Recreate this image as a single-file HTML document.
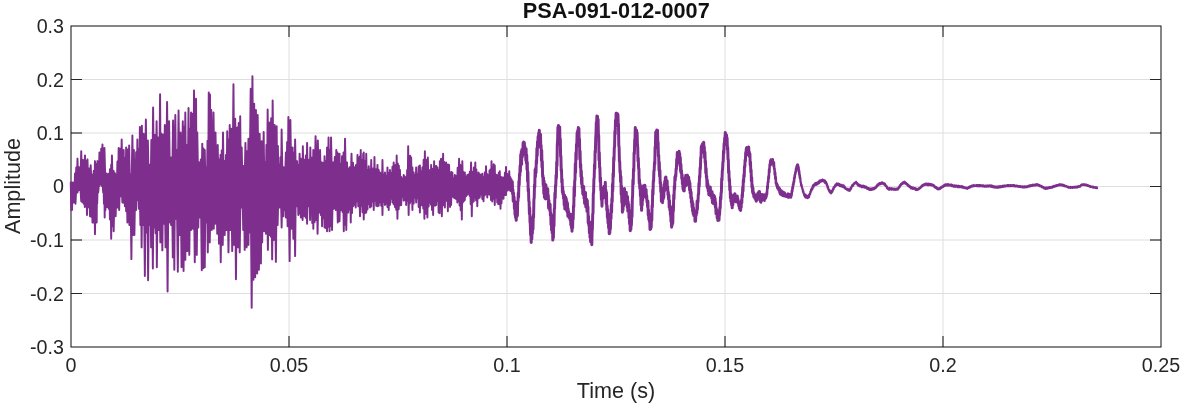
<!DOCTYPE html>
<html><head><meta charset="utf-8"><title>PSA-091-012-0007</title>
<style>html,body{margin:0;padding:0;background:#fff}svg{display:block}</style></head>
<body>
<svg width="1182" height="404" viewBox="0 0 1182 404">
<rect width="1182" height="404" fill="#fff"/>
<line x1="289" y1="26" x2="289" y2="347" stroke="#dedede" stroke-width="1"/>
<line x1="507" y1="26" x2="507" y2="347" stroke="#dedede" stroke-width="1"/>
<line x1="725" y1="26" x2="725" y2="347" stroke="#dedede" stroke-width="1"/>
<line x1="943" y1="26" x2="943" y2="347" stroke="#dedede" stroke-width="1"/>
<line x1="71" y1="79.5" x2="1161" y2="79.5" stroke="#dedede" stroke-width="1"/>
<line x1="71" y1="133" x2="1161" y2="133" stroke="#dedede" stroke-width="1"/>
<line x1="71" y1="186.5" x2="1161" y2="186.5" stroke="#dedede" stroke-width="1"/>
<line x1="71" y1="240" x2="1161" y2="240" stroke="#dedede" stroke-width="1"/>
<line x1="71" y1="293.5" x2="1161" y2="293.5" stroke="#dedede" stroke-width="1"/>
<rect x="71" y="26" width="1090" height="321" fill="none" stroke="#0c0c0c" stroke-width="1"/>
<line x1="289" y1="26" x2="289" y2="37" stroke="#0c0c0c" stroke-width="1"/>
<line x1="289" y1="347" x2="289" y2="336" stroke="#0c0c0c" stroke-width="1"/>
<line x1="507" y1="26" x2="507" y2="37" stroke="#0c0c0c" stroke-width="1"/>
<line x1="507" y1="347" x2="507" y2="336" stroke="#0c0c0c" stroke-width="1"/>
<line x1="725" y1="26" x2="725" y2="37" stroke="#0c0c0c" stroke-width="1"/>
<line x1="725" y1="347" x2="725" y2="336" stroke="#0c0c0c" stroke-width="1"/>
<line x1="943" y1="26" x2="943" y2="37" stroke="#0c0c0c" stroke-width="1"/>
<line x1="943" y1="347" x2="943" y2="336" stroke="#0c0c0c" stroke-width="1"/>
<line x1="71" y1="79.5" x2="82" y2="79.5" stroke="#262626" stroke-width="1"/>
<line x1="1161" y1="79.5" x2="1150" y2="79.5" stroke="#262626" stroke-width="1"/>
<line x1="71" y1="133" x2="82" y2="133" stroke="#0c0c0c" stroke-width="1"/>
<line x1="1161" y1="133" x2="1150" y2="133" stroke="#0c0c0c" stroke-width="1"/>
<line x1="71" y1="186.5" x2="82" y2="186.5" stroke="#262626" stroke-width="1"/>
<line x1="1161" y1="186.5" x2="1150" y2="186.5" stroke="#262626" stroke-width="1"/>
<line x1="71" y1="240" x2="82" y2="240" stroke="#0c0c0c" stroke-width="1"/>
<line x1="1161" y1="240" x2="1150" y2="240" stroke="#0c0c0c" stroke-width="1"/>
<line x1="71" y1="293.5" x2="82" y2="293.5" stroke="#262626" stroke-width="1"/>
<line x1="1161" y1="293.5" x2="1150" y2="293.5" stroke="#262626" stroke-width="1"/>
<g fill="none" stroke="#7E2F8E" stroke-linejoin="round" stroke-linecap="round">
<path d="M74.49 190.50 L74.99 173.58 L75.62 190.50 L76.24 167.55 L76.86 190.50 L77.49 158.60 L78.36 190.50 L79.23 167.34 L80.23 190.50 L81.23 151.12 L82.10 190.50 L82.98 159.85 L83.98 190.50 L84.97 155.36 L85.72 190.50 L86.47 161.10 L86.97 190.50 L87.47 159.35 L88.34 190.50 L89.22 168.59 L89.97 190.50 L90.71 165.34 L91.59 190.50 L92.46 174.83 L93.08 190.50 L93.71 170.99 L94.33 190.50 L94.96 161.10 L95.58 190.50 L96.20 163.92 L96.83 190.50 L97.45 161.10 L98.45 190.50 L99.45 152.36 L100.32 181.05 L101.20 148.62 L101.82 185.86 L102.44 144.38 L103.44 190.50 L104.44 147.87 L105.56 190.50 L106.69 173.58 L107.23 190.50 L107.77 174.76 L108.31 190.50 L108.85 173.71 L109.39 190.50 L109.93 169.33 L110.55 190.50 L111.18 164.84 L111.55 190.50 L111.93 155.36 L112.80 190.50 L113.67 171.08 L114.30 190.50 L114.92 173.22 L115.55 190.50 L116.17 174.83 L116.79 190.50 L117.42 161.45 L118.04 190.50 L118.66 147.87 L119.41 190.50 L120.16 148.62 L120.91 190.50 L121.66 139.39 L122.66 190.50 L123.66 149.87 L124.28 190.50 L124.90 158.14 L125.53 190.50 L126.15 147.37 L126.90 190.50 L127.65 149.50 L128.40 190.50 L129.15 145.38 L129.90 190.50 L130.64 174.83 L131.52 190.50 L132.39 135.39 L133.14 190.50 L133.89 149.87 L134.39 190.50 L134.89 159.85 L135.51 190.50 L136.13 152.21 L136.76 190.50 L137.38 139.39 L138.01 190.50 L138.63 149.08 L139.25 190.50 L139.88 126.91 L140.88 190.50 L141.87 125.66 L142.75 190.50 L143.62 133.65 L144.74 190.50 L145.87 119.42 L146.87 190.50 L147.86 140.39 L148.86 190.50 L149.86 164.84 L150.61 190.50 L151.36 139.89 L152.23 190.50 L153.10 107.44 L153.98 190.50 L154.85 134.90 L155.72 190.50 L156.60 121.17 L157.35 190.50 L158.10 137.39 L159.09 190.50 L160.09 94.22 L160.72 190.50 L161.34 133.65 L162.09 190.50 L162.84 134.40 L163.84 190.50 L164.83 124.91 L165.96 190.50 L167.08 101.95 L168.08 190.50 L169.08 121.17 L170.07 190.50 L171.07 157.36 L172.07 190.50 L173.07 120.42 L174.19 190.50 L175.32 114.93 L176.06 190.50 L176.81 149.87 L177.69 190.50 L178.56 110.44 L179.56 190.50 L180.56 132.40 L181.68 190.50 L182.80 121.17 L183.43 190.50 L184.05 126.63 L184.67 190.50 L185.30 112.43 L186.05 190.50 L186.80 144.88 L187.67 190.50 L188.54 107.94 L189.17 190.50 L189.79 129.34 L190.41 190.50 L191.04 112.43 L191.79 190.50 L192.54 113.61 L193.28 190.50 L194.03 90.47 L195.03 190.50 L196.03 98.71 L196.65 190.50 L197.28 132.40 L198.28 190.50 L199.27 162.35 L200.02 190.50 L200.77 159.41 L201.52 190.50 L202.27 143.63 L202.89 190.50 L203.52 148.55 L204.14 190.50 L204.76 149.87 L205.51 190.50 L206.26 167.34 L206.89 190.50 L207.51 140.68 L208.13 190.50 L208.76 92.47 L209.38 190.50 L210.00 94.47 L210.63 190.50 L211.25 109.94 L212.38 190.50 L213.50 112.43 L214.50 190.50 L215.50 132.40 L216.62 190.50 L217.74 144.88 L218.43 190.50 L219.11 159.41 L219.80 190.50 L220.49 154.86 L221.11 190.50 L221.73 150.36 L222.36 190.50 L222.98 132.40 L223.86 190.50 L224.73 161.10 L225.35 190.50 L225.98 155.10 L226.60 190.50 L227.22 131.15 L227.85 190.50 L228.47 139.81 L229.10 190.50 L229.72 124.91 L230.59 190.50 L231.47 128.66 L232.47 190.50 L233.46 84.23 L234.34 190.50 L235.21 118.67 L236.21 190.50 L237.21 127.41 L237.96 190.50 L238.70 123.04 L239.45 190.50 L240.20 116.18 L240.95 190.50 L241.70 147.37 L242.57 190.50 L243.45 166.09 L244.44 190.50 L245.44 142.88 L246.19 190.50 L246.94 151.16 L247.69 190.50 L248.44 138.64 L249.56 190.50 L250.68 88.73 L251.56 190.50 L252.43 76.25 L253.30 190.50 L254.18 103.70 L255.05 190.50 L255.92 109.94 L256.80 190.50 L257.67 114.93 L258.67 190.50 L259.67 133.65 L260.67 190.50 L261.66 141.13 L262.66 190.50 L263.66 131.90 L264.41 190.50 L265.16 162.35 L265.78 190.50 L266.41 144.87 L267.03 190.50 L267.65 109.44 L268.65 190.50 L269.65 122.42 L270.40 190.50 L271.15 118.22 L271.90 190.50 L272.65 100.46 L273.64 190.50 L274.64 124.91 L275.64 190.50 L276.64 126.16 L277.26 190.50 L277.89 145.88 L278.51 190.50 L279.13 164.84 L279.76 190.50 L280.38 157.35 L281.01 190.50 L281.63 129.40 L282.63 190.50 L283.63 167.34 L284.75 190.50 L285.87 152.36 L286.50 190.50 L287.12 142.00 L287.74 190.50 L288.37 116.93 L289.37 190.50 L290.36 119.92 L291.49 190.50 L292.61 147.37 L293.23 190.50 L293.86 152.68 L294.48 190.50 L295.11 139.39 L296.10 190.50 L297.10 161.10 L297.73 190.50 L298.35 165.04 L298.97 190.50 L299.60 153.61 L300.14 190.50 L300.68 158.70 L301.22 190.50 L301.76 159.09 L302.30 190.50 L302.84 146.13 L303.72 190.50 L304.59 159.85 L305.21 190.50 L305.84 155.53 L306.46 190.50 L307.09 142.88 L307.96 190.50 L308.83 159.85 L309.58 190.50 L310.33 147.37 L311.08 190.50 L311.83 157.72 L312.58 190.50 L313.32 149.87 L314.45 190.50 L315.57 136.14 L316.69 190.50 L317.82 140.39 L318.94 190.50 L320.06 149.87 L321.06 190.50 L322.06 162.35 L322.68 190.50 L323.31 162.87 L323.93 190.50 L324.55 156.11 L325.18 190.50 L325.80 161.50 L326.43 190.50 L327.05 147.37 L327.80 190.50 L328.55 137.39 L329.17 190.50 L329.80 150.34 L330.42 190.50 L331.04 137.39 L332.17 190.50 L333.29 162.35 L334.04 190.50 L334.79 157.00 L335.54 190.50 L336.28 149.87 L336.82 190.50 L337.37 152.56 L337.91 190.50 L338.45 154.59 L338.99 190.50 L339.53 153.61 L340.15 190.50 L340.78 164.02 L341.40 190.50 L342.02 156.11 L342.77 190.50 L343.52 152.49 L344.27 190.50 L345.02 138.64 L346.02 190.50 L347.02 162.35 L347.64 190.50 L348.26 168.91 L348.89 190.50 L349.51 167.34 L350.51 190.50 L351.51 153.61 L352.26 190.50 L353.00 162.83 L353.75 190.50 L354.50 167.34 L355.25 190.50 L356.00 164.96 L356.75 190.50 L357.50 154.86 L358.04 190.50 L358.58 158.59 L359.12 190.50 L359.66 156.69 L360.20 190.50 L360.74 149.87 L361.37 190.50 L361.99 160.28 L362.61 190.50 L363.24 153.61 L363.49 190.50 L363.74 152.41 L364.37 190.50 L364.99 161.24 L365.62 190.50 L366.24 153.66 L366.86 190.50 L367.49 170.00 L368.11 190.50 L368.73 166.13 L369.36 190.50 L369.98 169.74 L370.61 190.50 L371.23 159.90 L371.77 190.50 L372.31 169.67 L372.85 190.50 L373.39 168.19 L373.93 190.50 L374.47 156.90 L374.97 190.50 L375.47 170.77 L375.97 190.50 L376.47 169.07 L376.97 190.50 L377.47 164.89 L378.09 190.50 L378.72 169.85 L379.34 190.50 L379.97 172.37 L380.59 190.50 L381.21 173.50 L381.84 190.50 L382.46 159.90 L383.08 190.50 L383.71 174.39 L384.33 190.50 L384.96 172.37 L385.58 190.50 L386.20 176.19 L386.83 190.50 L387.45 167.38 L388.08 190.50 L388.70 172.90 L389.32 190.50 L389.95 169.88 L390.57 190.50 L391.20 173.11 L391.82 190.50 L392.44 166.80 L393.07 190.50 L393.69 162.39 L394.19 190.50 L394.69 169.30 L395.19 190.50 L395.69 164.66 L396.19 190.50 L396.69 155.40 L397.23 190.50 L397.77 163.37 L398.31 190.50 L398.85 165.62 L399.39 190.50 L399.93 169.88 L400.55 190.50 L401.18 176.91 L401.80 190.50 L402.43 178.73 L403.05 190.50 L403.67 174.87 L404.30 190.50 L404.92 176.50 L405.55 190.50 L406.17 177.36 L406.67 190.50 L407.17 170.08 L407.67 190.50 L408.17 146.17 L408.66 190.50 L409.16 156.22 L409.66 190.50 L410.16 155.74 L410.66 190.50 L411.16 157.40 L411.78 190.50 L412.41 167.55 L413.03 190.50 L413.66 172.37 L414.28 190.50 L414.90 175.24 L415.53 190.50 L416.15 167.38 L416.78 190.50 L417.40 173.97 L418.02 190.50 L418.65 166.43 L419.27 190.50 L419.90 165.39 L420.52 190.50 L421.14 171.58 L421.77 190.50 L422.39 167.38 L423.01 190.50 L423.64 159.79 L424.26 190.50 L424.89 151.16 L425.39 190.50 L425.88 163.28 L426.38 190.50 L426.88 159.65 L427.38 190.50 L427.88 157.40 L428.42 190.50 L428.96 169.74 L429.50 190.50 L430.04 172.32 L430.58 190.50 L431.13 164.89 L431.62 190.50 L432.12 168.49 L432.62 190.50 L433.12 172.50 L433.62 190.50 L434.12 161.14 L434.66 190.50 L435.20 166.25 L435.74 190.50 L436.28 165.99 L436.82 190.50 L437.36 167.38 L437.99 190.50 L438.61 169.86 L439.24 190.50 L439.86 161.14 L440.40 190.50 L440.94 159.01 L441.48 190.50 L442.02 158.67 L442.56 190.50 L443.10 153.66 L443.60 190.50 L444.10 161.70 L444.60 190.50 L445.10 166.41 L445.60 190.50 L446.10 162.39 L446.60 190.50 L447.10 164.75 L447.60 190.50 L448.10 164.45 L448.59 190.50 L449.09 164.89 L449.63 190.50 L450.18 174.35 L450.72 190.50 L451.26 172.07 L451.80 190.50 L452.34 172.37 L452.96 190.50 L453.59 178.81 L454.21 190.50 L454.83 174.87 L455.54 190.50 L456.25 175.88 L456.96 190.50 L457.66 167.62 L458.37 190.50 L459.08 158.65 L459.62 190.50 L460.16 164.70 L460.70 190.50 L461.24 166.03 L461.78 190.50 L462.32 161.14 L462.94 190.50 L463.57 172.10 L464.19 190.50 L464.82 172.37 L465.44 190.50 L466.06 176.84 L466.69 190.50 L467.31 174.87 L467.94 190.50 L468.56 174.42 L469.18 190.50 L469.81 171.75 L470.43 190.50 L471.06 162.39 L471.76 190.50 L472.47 171.92 L473.18 190.50 L473.88 167.52 L474.59 190.50 L475.30 162.39 L475.84 190.50 L476.38 169.48 L476.92 190.50 L477.46 174.33 L478.00 190.50 L478.54 172.37 L479.17 190.50 L479.79 174.16 L480.41 190.50 L481.04 174.89 L481.66 190.50 L482.29 173.62 L482.91 190.50 L483.53 177.44 L484.16 190.50 L484.78 172.54 L485.41 190.50 L486.03 166.13 L486.65 190.50 L487.28 174.19 L487.90 190.50 L488.53 174.87 L489.02 190.50 L489.52 170.37 L490.02 190.50 L490.52 169.34 L491.02 190.50 L491.52 161.14 L492.06 190.50 L492.60 168.39 L493.14 190.50 L493.68 164.16 L494.22 190.50 L494.76 165.39 L495.26 190.50 L495.76 174.36 L496.26 190.50 L496.76 174.87 L497.26 190.50 L497.76 177.04 L498.26 190.50 L498.76 172.73 L499.26 190.50 L499.76 171.13 L500.25 190.50 L500.75 176.71 L501.25 190.50 L501.75 177.48 L502.25 190.50 L502.75 177.36 L503.29 190.50 L503.83 177.47 L504.37 190.50 L504.91 172.76 L505.45 190.50 L505.99 166.88 L506.54 190.50 L507.08 173.70 L507.62 190.50 L508.16 174.92 L508.70 188.26 L509.24 171.13 L509.74 185.48 M70.75 182.50 L71.25 209.96 L71.62 182.50 L72.00 209.96 L72.87 182.50 L73.74 202.47 L74.62 182.50 L75.49 203.72 L76.49 182.50 L77.49 192.49 L78.24 182.50 L78.98 189.99 L80.11 182.50 L81.23 201.22 L81.85 182.50 L82.48 202.36 L83.10 182.50 L83.73 203.72 L84.27 182.50 L84.81 207.08 L85.35 182.50 L85.89 206.19 L86.43 182.50 L86.97 214.95 L87.72 182.50 L88.47 207.17 L89.22 182.50 L89.97 216.20 L90.59 182.50 L91.21 216.84 L91.84 182.50 L92.46 222.43 L93.08 182.50 L93.71 222.58 L94.33 182.50 L94.96 234.16 L95.83 182.50 L96.70 222.43 L96.95 182.50 L97.20 203.72 L97.70 182.50 L98.20 192.49 L98.80 182.50 L99.40 186.08 L100.00 182.50 L100.60 179.50 L101.25 182.50 L101.89 186.04 L102.54 182.50 L103.19 192.49 L103.57 182.50 L103.94 203.72 L104.31 182.50 L104.69 217.44 L105.06 182.50 L105.44 209.96 L105.98 182.50 L106.52 207.02 L107.06 182.50 L107.60 207.00 L108.14 182.50 L108.68 208.71 L109.31 182.50 L109.93 219.56 L110.55 182.50 L111.18 238.66 L111.80 182.50 L112.43 226.26 L113.05 182.50 L113.67 231.17 L114.67 182.50 L115.67 216.20 L116.54 182.50 L117.42 207.46 L118.29 182.50 L119.16 209.96 L119.91 182.50 L120.66 196.23 L121.53 182.50 L122.41 202.47 L123.03 182.50 L123.66 202.73 L124.28 182.50 L124.90 206.21 L125.53 182.50 L126.15 211.18 L126.78 182.50 L127.40 222.43 L128.40 182.50 L129.40 224.93 L130.39 182.50 L131.39 259.12 L132.14 182.50 L132.89 234.91 L133.64 182.50 L134.39 234.91 L135.26 182.50 L136.13 209.96 L136.76 182.50 L137.38 199.97 L138.13 182.50 L138.88 208.71 L139.63 182.50 L140.38 224.93 L141.00 182.50 L141.62 247.39 L142.25 182.50 L142.87 224.93 L143.87 182.50 L144.87 276.09 L145.62 182.50 L146.37 232.42 L147.24 182.50 L148.11 280.33 L148.99 182.50 L149.86 224.93 L150.48 182.50 L151.11 247.39 L151.98 182.50 L152.86 268.60 L153.60 182.50 L154.35 227.43 L154.98 182.50 L155.60 233.28 L156.22 182.50 L156.85 267.36 L157.72 182.50 L158.59 229.92 L159.47 182.50 L160.34 242.40 L161.34 182.50 L162.34 250.39 L163.09 182.50 L163.84 223.68 L164.71 182.50 L165.58 247.39 L166.58 182.50 L167.58 291.56 L168.45 182.50 L169.33 222.43 L170.20 182.50 L171.07 224.93 L171.95 182.50 L172.82 257.37 L173.57 182.50 L174.32 269.85 L174.94 182.50 L175.57 218.69 L176.69 182.50 L177.81 271.85 L178.81 182.50 L179.81 234.91 L180.68 182.50 L181.55 267.36 L182.55 182.50 L183.55 271.10 L184.42 182.50 L185.30 259.87 L186.30 182.50 L187.29 251.13 L188.29 182.50 L189.29 254.88 L190.16 182.50 L191.04 229.92 L191.91 182.50 L192.79 228.67 L193.78 182.50 L194.78 262.36 L195.78 182.50 L196.78 254.88 L197.53 182.50 L198.28 227.43 L199.02 182.50 L199.77 217.44 L200.77 182.50 L201.77 270.35 L202.52 182.50 L203.27 268.19 L204.02 182.50 L204.76 267.36 L205.51 182.50 L206.26 222.43 L207.01 182.50 L207.76 252.38 L208.76 182.50 L209.76 242.40 L210.75 182.50 L211.75 229.92 L212.75 182.50 L213.75 228.67 L214.50 182.50 L215.25 223.68 L216.24 182.50 L217.24 233.66 L218.12 182.50 L218.99 243.65 L219.86 182.50 L220.74 262.36 L221.73 182.50 L222.73 244.90 L223.73 182.50 L224.73 234.91 L225.60 182.50 L226.48 229.92 L227.47 182.50 L228.47 252.38 L229.47 182.50 L230.47 229.92 L231.34 182.50 L232.22 251.13 L233.21 182.50 L234.21 244.90 L235.09 182.50 L235.96 279.33 L236.83 182.50 L237.71 247.39 L238.70 182.50 L239.70 252.38 L240.70 182.50 L241.70 207.46 L242.45 182.50 L243.20 229.92 L243.95 182.50 L244.69 249.89 L245.69 182.50 L246.69 247.39 L247.56 182.50 L248.44 244.90 L249.06 182.50 L249.69 232.42 L250.68 182.50 L251.68 307.79 L252.56 182.50 L253.43 279.83 L254.30 182.50 L255.18 277.34 L256.17 182.50 L257.17 273.59 L258.05 182.50 L258.92 269.85 L259.92 182.50 L260.92 263.61 L261.54 182.50 L262.16 242.40 L263.16 182.50 L264.16 231.17 L265.03 182.50 L265.91 233.66 L266.91 182.50 L267.90 249.89 L268.78 182.50 L269.65 234.91 L270.27 182.50 L270.90 236.79 L271.52 182.50 L272.15 259.37 L273.02 182.50 L273.89 239.90 L274.89 182.50 L275.89 261.87 L276.76 182.50 L277.64 224.93 L278.63 182.50 L279.63 207.46 L280.63 182.50 L281.63 227.43 L282.50 182.50 L283.38 216.20 L284.00 182.50 L284.62 210.13 L285.25 182.50 L285.87 217.44 L286.75 182.50 L287.62 226.18 L288.62 182.50 L289.62 261.12 L290.49 182.50 L291.36 228.67 L292.36 182.50 L293.36 238.66 L294.23 182.50 L295.11 256.13 L295.85 182.50 L296.60 206.21 L297.48 182.50 L298.35 214.95 L298.97 182.50 L299.60 213.43 L300.22 182.50 L300.85 217.44 L301.72 182.50 L302.59 219.94 L303.59 182.50 L304.59 216.20 L305.21 182.50 L305.84 217.71 L306.46 182.50 L307.09 223.68 L307.71 182.50 L308.33 206.21 L309.21 182.50 L310.08 219.94 L310.62 182.50 L311.16 214.08 L311.70 182.50 L312.24 222.95 L312.78 182.50 L313.32 228.67 L313.95 182.50 L314.57 222.18 L315.20 182.50 L315.82 219.94 L316.69 182.50 L317.57 233.66 L318.57 182.50 L319.56 212.45 L320.19 182.50 L320.81 215.03 L321.43 182.50 L322.06 226.18 L322.68 182.50 L323.31 218.36 L323.93 182.50 L324.55 227.43 L325.18 182.50 L325.80 227.99 L326.43 182.50 L327.05 231.17 L327.67 182.50 L328.30 226.85 L328.92 182.50 L329.55 231.17 L330.17 182.50 L330.79 226.14 L331.42 182.50 L332.04 229.92 L332.91 182.50 L333.79 208.71 L334.79 182.50 L335.78 209.96 L336.78 182.50 L337.78 222.43 L338.65 182.50 L339.53 221.19 L340.40 182.50 L341.28 209.96 L341.90 182.50 L342.52 212.04 L343.15 182.50 L343.77 231.17 L344.39 182.50 L345.02 224.75 L345.64 182.50 L346.27 229.92 L347.26 182.50 L348.26 212.45 L348.89 182.50 L349.51 209.50 L350.13 182.50 L350.76 222.43 L351.38 182.50 L352.01 212.91 L352.63 182.50 L353.25 206.21 L353.88 182.50 L354.50 204.78 L355.13 182.50 L355.75 207.46 L356.37 182.50 L357.00 201.28 L357.62 182.50 L358.25 206.21 L359.12 182.50 L360.00 216.18 L360.62 182.50 L361.25 205.83 L361.87 182.50 L362.50 212.31 L363.12 182.50 L363.74 219.42 L364.37 182.50 L364.99 213.15 L365.62 182.50 L366.24 212.43 L366.86 182.50 L367.49 209.54 L368.11 182.50 L368.73 204.08 L369.36 182.50 L369.98 207.44 L370.61 182.50 L371.23 206.53 L371.85 182.50 L372.48 201.45 L373.10 182.50 L373.73 209.94 L374.35 182.50 L374.97 200.88 L375.60 182.50 L376.22 205.83 L376.85 182.50 L377.47 206.20 L378.09 182.50 L378.72 205.82 L379.34 182.50 L379.97 202.40 L380.59 182.50 L381.21 205.67 L381.84 182.50 L382.46 214.93 L383.08 182.50 L383.71 202.00 L384.33 182.50 L384.96 204.95 L385.58 182.50 L386.20 203.69 L386.83 182.50 L387.45 207.09 L388.08 182.50 L388.70 209.94 L389.32 182.50 L389.95 204.88 L390.57 182.50 L391.20 198.80 L391.82 182.50 L392.44 202.45 L393.07 182.50 L393.69 204.23 L394.31 182.50 L394.94 207.06 L395.56 182.50 L396.19 209.69 L396.81 182.50 L397.43 218.67 L398.06 182.50 L398.68 209.23 L399.31 182.50 L399.93 205.56 L400.55 182.50 L401.18 204.95 L401.80 182.50 L402.43 196.79 L403.05 182.50 L403.67 200.63 L404.30 182.50 L404.92 199.96 L405.55 182.50 L406.17 204.91 L406.79 182.50 L407.42 200.65 L408.04 182.50 L408.66 214.93 L409.29 182.50 L409.91 203.37 L410.54 182.50 L411.16 201.20 L411.78 182.50 L412.41 209.94 L413.03 182.50 L413.66 203.62 L414.28 182.50 L414.90 197.59 L415.53 182.50 L416.15 202.45 L416.78 182.50 L417.40 198.27 L418.02 182.50 L418.65 207.00 L419.27 182.50 L419.90 212.43 L420.46 182.50 L421.02 205.39 L421.58 182.50 L422.14 205.34 L422.70 182.50 L423.26 208.59 L423.83 182.50 L424.39 218.67 L424.89 182.50 L425.39 211.33 L425.88 182.50 L426.38 214.04 L426.88 182.50 L427.38 217.43 L428.01 182.50 L428.63 206.58 L429.25 182.50 L429.88 202.45 L430.42 182.50 L430.96 204.69 L431.50 182.50 L432.04 210.08 L432.58 182.50 L433.12 214.93 L433.62 182.50 L434.12 205.40 L434.62 182.50 L435.12 205.65 L435.62 182.50 L436.12 204.95 L436.74 182.50 L437.36 201.14 L437.99 182.50 L438.61 212.43 L439.15 182.50 L439.69 213.17 L440.23 182.50 L440.78 204.14 L441.32 182.50 L441.86 216.18 L442.36 182.50 L442.86 205.47 L443.35 182.50 L443.85 201.10 L444.35 182.50 L444.85 207.44 L445.35 182.50 L445.85 200.33 L446.35 182.50 L446.85 201.08 L447.35 182.50 L447.85 211.19 L448.39 182.50 L448.93 203.63 L449.47 182.50 L450.01 206.91 L450.55 182.50 L451.09 204.95 L451.71 182.50 L452.34 196.60 L452.96 182.50 L453.59 197.46 L454.21 182.50 L454.83 198.21 L455.46 182.50 L456.08 198.99 L456.71 182.50 L457.33 202.45 L457.89 182.50 L458.45 201.07 L459.01 182.50 L459.58 205.55 L460.14 182.50 L460.70 210.20 L461.26 182.50 L461.82 219.42 L462.32 182.50 L462.82 202.51 L463.32 182.50 L463.82 201.32 L464.32 182.50 L464.82 199.96 L465.44 182.50 L466.06 196.25 L466.69 182.50 L467.31 194.81 L467.94 182.50 L468.56 193.72 L469.10 182.50 L469.64 195.88 L470.18 182.50 L470.72 204.24 L471.26 182.50 L471.80 216.18 L472.30 182.50 L472.80 202.24 L473.30 182.50 L473.80 201.16 L474.30 182.50 L474.80 197.46 L475.42 182.50 L476.05 200.56 L476.67 182.50 L477.29 206.20 L477.92 182.50 L478.54 198.39 L479.17 182.50 L479.79 197.46 L480.41 182.50 L481.04 194.52 L481.66 182.50 L482.29 198.99 L482.91 182.50 L483.53 201.20 L484.16 182.50 L484.78 195.48 L485.41 182.50 L486.03 193.98 L486.65 182.50 L487.28 197.46 L487.90 182.50 L488.53 194.30 L489.15 182.50 L489.77 194.76 L490.40 182.50 L491.02 199.96 L491.64 182.50 L492.27 201.57 L492.89 182.50 L493.52 198.85 L494.14 182.50 L494.76 204.95 L495.39 182.50 L496.01 197.47 L496.64 182.50 L497.26 202.45 L497.80 182.50 L498.34 204.15 L498.88 182.50 L499.42 204.32 L499.96 182.50 L500.50 208.69 L501.00 182.50 L501.50 203.24 L502.00 182.50 L502.50 198.60 L503.00 182.50 L503.50 198.71 L504.12 182.50 L504.75 195.00 L505.37 182.50 L505.99 194.97 L506.62 182.50 L507.24 190.62 L507.87 182.50 L508.49 187.72 L509.11 182.50 L509.74 184.98 L510.24 182.50" stroke-width="1.95"/>
<path d="M509.00 189.21 L509.30 178.63 L509.60 187.81 L509.90 177.38 L510.20 189.10 L510.50 179.09 L510.80 190.80 L511.10 179.65 L511.40 187.70 L511.70 182.66 L512.00 188.06 L512.30 181.66 L512.60 193.94 L512.90 189.50 L513.20 201.08 L513.50 192.91 L513.80 201.95 L514.10 197.10 L514.40 208.66 L514.70 201.15 L515.00 214.67 L515.30 209.24 L515.60 217.74 L515.90 213.31 L516.20 220.32 L516.50 214.11 L516.80 216.75 L517.10 203.81 L517.40 215.69 L517.70 201.40 L518.00 200.94 L518.30 192.73 L518.60 197.32 L518.90 181.21 L519.20 184.95 L519.50 174.01 L519.80 175.78 L520.10 165.43 L520.40 171.61 L520.70 154.67 L521.00 162.88 L521.30 151.64 L521.60 164.58 L521.90 149.41 L522.20 157.33 L522.50 150.11 L522.80 155.24 L523.10 143.03 L523.40 153.67 L523.70 142.02 L524.00 153.38 L524.30 142.44 L524.60 148.37 L524.90 146.60 L525.20 151.70 L525.50 148.12 L525.80 160.21 L526.10 148.70 L526.40 163.33 L526.70 154.92 L527.00 169.69 L527.30 162.20 L527.60 181.49 L527.90 171.71 L528.20 191.30 L528.50 188.77 L528.80 200.70 L529.10 201.90 L529.40 213.99 L529.70 207.92 L530.00 222.01 L530.30 223.75 L530.60 234.85 L530.90 231.74 L531.20 242.47 L531.50 231.68 L531.80 239.22 L532.10 226.75 L532.40 233.54 L532.70 217.53 L533.00 229.33 L533.30 214.98 L533.60 217.54 L533.90 199.80 L534.20 197.69 L534.50 184.79 L534.80 187.03 L535.10 169.78 L535.40 177.04 L535.70 168.22 L536.00 172.99 L536.30 160.54 L536.60 163.46 L536.90 148.38 L537.20 155.71 L537.50 141.69 L537.80 147.83 L538.10 136.53 L538.40 142.05 L538.70 132.96 L539.00 144.86 L539.30 130.31 L539.60 138.52 L539.90 134.46 L540.20 141.72 L540.50 134.23 L540.80 147.87 L541.10 145.22 L541.40 160.55 L541.70 150.34 L542.00 167.30 L542.30 161.25 L542.60 176.75 L542.90 175.35 L543.20 185.03 L543.50 177.68 L543.80 193.58 L544.10 181.11 L544.40 197.31 L544.70 185.76 L545.00 198.50 L545.30 186.55 L545.60 198.97 L545.90 184.74 L546.20 196.33 L546.50 190.85 L546.80 195.49 L547.10 190.20 L547.40 197.59 L547.70 188.82 L548.00 199.11 L548.30 195.33 L548.60 208.29 L548.90 200.33 L549.20 206.75 L549.50 204.13 L549.80 210.67 L550.10 204.20 L550.40 215.35 L550.70 212.68 L551.00 224.73 L551.30 214.63 L551.60 230.15 L551.90 221.02 L552.20 233.12 L552.50 226.06 L552.80 240.10 L553.10 231.17 L553.40 237.78 L553.70 219.65 L554.00 226.26 L554.30 208.91 L554.60 208.77 L554.90 193.10 L555.20 198.27 L555.50 185.46 L555.80 185.57 L556.10 174.95 L556.40 178.71 L556.70 162.08 L557.00 166.22 L557.30 144.15 L557.60 140.75 L557.90 127.18 L558.20 139.70 L558.50 125.40 L558.80 136.54 L559.10 129.33 L559.40 137.27 L559.70 127.00 L560.00 145.28 L560.30 138.75 L560.60 156.72 L560.90 156.00 L561.20 170.61 L561.50 169.55 L561.80 182.51 L562.10 179.36 L562.40 192.33 L562.70 187.14 L563.00 194.66 L563.30 191.41 L563.60 198.62 L563.90 194.67 L564.20 205.11 L564.50 194.99 L564.80 209.00 L565.10 196.58 L565.40 207.05 L565.70 197.09 L566.00 209.46 L566.30 198.83 L566.60 210.62 L566.90 201.51 L567.20 211.91 L567.50 203.21 L567.80 216.21 L568.10 208.52 L568.40 215.50 L568.70 211.66 L569.00 217.59 L569.30 213.41 L569.60 217.75 L569.90 214.61 L570.20 220.32 L570.50 214.86 L570.80 224.96 L571.10 214.58 L571.40 227.71 L571.70 221.00 L572.00 231.30 L572.30 218.20 L572.60 228.08 L572.90 214.42 L573.20 219.28 L573.50 205.82 L573.80 207.02 L574.10 187.40 L574.40 196.10 L574.70 181.26 L575.00 179.53 L575.30 163.75 L575.60 172.48 L575.90 152.78 L576.20 159.63 L576.50 144.22 L576.80 146.41 L577.10 132.71 L577.40 136.71 L577.70 130.49 L578.00 135.66 L578.30 127.51 L578.60 136.76 L578.90 128.23 L579.20 142.35 L579.50 139.00 L579.80 159.02 L580.10 151.28 L580.40 167.76 L580.70 164.12 L581.00 176.61 L581.30 170.89 L581.60 183.97 L581.90 177.17 L582.20 188.09 L582.50 185.41 L582.80 193.97 L583.10 189.09 L583.40 194.91 L583.70 186.48 L584.00 198.15 L584.30 192.74 L584.60 203.43 L584.90 192.52 L585.20 204.28 L585.50 192.57 L585.80 206.90 L586.10 198.88 L586.40 204.25 L586.70 199.26 L587.00 211.58 L587.30 200.48 L587.60 211.73 L587.90 206.56 L588.20 222.99 L588.50 215.98 L588.80 225.56 L589.10 221.31 L589.40 232.87 L589.70 222.03 L590.00 237.36 L590.30 227.02 L590.60 241.80 L590.90 233.28 L591.20 242.07 L591.50 235.75 L591.80 244.79 L592.10 231.23 L592.40 228.34 L592.70 214.38 L593.00 212.94 L593.30 193.98 L593.60 192.23 L593.90 179.15 L594.20 177.47 L594.50 164.74 L594.80 168.84 L595.10 151.06 L595.40 152.52 L595.70 138.09 L596.00 133.57 L596.30 122.50 L596.60 124.51 L596.90 115.91 L597.20 129.04 L597.50 116.13 L597.80 125.09 L598.10 119.30 L598.40 134.21 L598.70 135.45 L599.00 160.15 L599.30 152.41 L599.60 167.52 L599.90 167.50 L600.20 181.72 L600.50 177.73 L600.80 190.17 L601.10 188.47 L601.40 199.76 L601.70 198.53 L602.00 206.13 L602.30 190.91 L602.60 198.53 L602.90 188.09 L603.20 198.14 L603.50 190.74 L603.80 193.15 L604.10 186.29 L604.40 192.48 L604.70 187.08 L605.00 193.07 L605.30 182.26 L605.60 195.09 L605.90 189.94 L606.20 203.80 L606.50 192.56 L606.80 210.17 L607.10 205.72 L607.40 217.82 L607.70 209.45 L608.00 223.03 L608.30 213.69 L608.60 228.08 L608.90 218.84 L609.20 233.72 L609.50 224.28 L609.80 233.41 L610.10 226.25 L610.40 229.01 L610.70 214.35 L611.00 219.14 L611.30 205.08 L611.60 212.35 L611.90 198.40 L612.20 201.69 L612.50 184.10 L612.80 190.94 L613.10 173.24 L613.40 176.69 L613.70 157.50 L614.00 160.95 L614.30 147.52 L614.60 146.72 L614.90 131.33 L615.20 134.25 L615.50 120.28 L615.80 125.84 L616.10 113.22 L616.40 120.99 L616.70 113.28 L617.00 124.55 L617.30 113.41 L617.60 122.92 L617.90 114.34 L618.20 122.17 L618.50 125.23 L618.80 145.50 L619.10 147.29 L619.40 161.11 L619.70 161.62 L620.00 172.42 L620.30 170.80 L620.60 181.84 L620.90 176.50 L621.20 194.52 L621.50 186.00 L621.80 202.39 L622.10 196.60 L622.40 212.16 L622.70 201.62 L623.00 210.38 L623.30 199.37 L623.60 206.05 L623.90 192.85 L624.20 201.04 L624.50 188.57 L624.80 201.72 L625.10 192.44 L625.40 199.90 L625.70 192.11 L626.00 199.11 L626.30 192.23 L626.60 204.39 L626.90 196.84 L627.20 207.28 L627.50 196.39 L627.80 211.25 L628.10 201.58 L628.40 211.50 L628.70 204.35 L629.00 217.85 L629.30 210.21 L629.60 223.92 L629.90 216.73 L630.20 230.81 L630.50 224.21 L630.80 229.58 L631.10 224.48 L631.40 225.22 L631.70 214.80 L632.00 217.26 L632.30 199.36 L632.60 195.76 L632.90 180.01 L633.20 184.27 L633.50 169.01 L633.80 171.30 L634.10 152.62 L634.40 153.85 L634.70 139.82 L635.00 138.86 L635.30 127.54 L635.60 140.72 L635.90 131.61 L636.20 139.24 L636.50 130.04 L636.80 140.40 L637.10 132.62 L637.40 143.80 L637.70 147.02 L638.00 161.21 L638.30 158.09 L638.60 168.55 L638.90 168.64 L639.20 183.20 L639.50 179.68 L639.80 188.59 L640.10 184.36 L640.40 195.96 L640.70 193.31 L641.00 205.10 L641.30 202.94 L641.60 210.36 L641.90 202.24 L642.20 205.16 L642.50 191.59 L642.80 200.08 L643.10 186.10 L643.40 190.65 L643.70 186.38 L644.00 193.37 L644.30 185.82 L644.60 193.44 L644.90 185.32 L645.20 196.70 L645.50 190.15 L645.80 195.19 L646.10 189.52 L646.40 198.45 L646.70 195.50 L647.00 202.21 L647.30 200.48 L647.60 207.02 L647.90 201.06 L648.20 215.15 L648.50 209.75 L648.80 219.46 L649.10 213.48 L649.40 221.52 L649.70 218.97 L650.00 229.58 L650.30 223.77 L650.60 229.10 L650.90 223.96 L651.20 227.39 L651.50 217.15 L651.80 220.53 L652.10 205.42 L652.40 206.97 L652.70 190.05 L653.00 194.57 L653.30 181.03 L653.60 181.14 L653.90 170.85 L654.20 170.40 L654.50 162.60 L654.80 164.38 L655.10 146.91 L655.40 148.76 L655.70 132.24 L656.00 140.67 L656.30 131.27 L656.60 143.09 L656.90 129.99 L657.20 139.06 L657.50 130.23 L657.80 142.07 L658.10 142.37 L658.40 156.10 L658.70 155.12 L659.00 170.38 L659.30 162.16 L659.60 176.57 L659.90 170.35 L660.20 183.81 L660.50 182.31 L660.80 192.02 L661.10 187.75 L661.40 201.37 L661.70 192.44 L662.00 198.23 L662.30 191.80 L662.60 202.66 L662.90 192.91 L663.20 199.25 L663.50 191.01 L663.80 197.54 L664.10 184.45 L664.40 191.30 L664.70 181.53 L665.00 188.16 L665.30 177.86 L665.60 183.91 L665.90 176.90 L666.20 184.63 L666.50 180.19 L666.80 186.51 L667.10 180.71 L667.40 190.23 L667.70 186.92 L668.00 195.01 L668.30 191.95 L668.60 199.51 L668.90 194.99 L669.20 207.34 L669.50 200.46 L669.80 210.04 L670.10 206.60 L670.40 214.69 L670.70 214.31 L671.00 221.71 L671.30 216.17 L671.60 227.17 L671.90 219.16 L672.20 225.13 L672.50 219.05 L672.80 223.06 L673.10 205.84 L673.40 211.39 L673.70 194.98 L674.00 199.03 L674.30 186.29 L674.60 189.64 L674.90 176.98 L675.20 180.29 L675.50 175.11 L675.80 176.50 L676.10 168.66 L676.40 169.35 L676.70 159.24 L677.00 163.64 L677.30 152.45 L677.60 159.72 L677.90 152.21 L678.20 157.89 L678.50 153.23 L678.80 157.07 L679.10 151.30 L679.40 160.57 L679.70 153.50 L680.00 166.00 L680.30 157.56 L680.60 171.54 L680.90 164.13 L681.20 173.36 L681.50 170.48 L681.80 178.80 L682.10 174.47 L682.40 184.00 L682.70 180.50 L683.00 188.92 L683.30 181.90 L683.60 190.65 L683.90 179.81 L684.20 191.01 L684.50 180.42 L684.80 186.65 L685.10 177.95 L685.40 184.82 L685.70 175.51 L686.00 185.78 L686.30 178.03 L686.60 180.66 L686.90 175.23 L687.20 179.25 L687.50 175.16 L687.80 181.23 L688.10 176.82 L688.40 181.03 L688.70 177.15 L689.00 185.44 L689.30 180.52 L689.60 190.10 L689.90 183.10 L690.20 193.34 L690.50 189.35 L690.80 197.94 L691.10 192.00 L691.40 202.59 L691.70 197.84 L692.00 206.89 L692.30 201.07 L692.60 211.14 L692.90 203.44 L693.20 213.96 L693.50 207.80 L693.80 215.58 L694.10 211.67 L694.40 215.86 L694.70 213.34 L695.00 221.30 L695.30 211.43 L695.60 221.28 L695.90 210.78 L696.20 215.49 L696.50 210.66 L696.80 213.11 L697.10 201.12 L697.40 209.53 L697.70 200.79 L698.00 201.97 L698.30 194.21 L698.60 194.28 L698.90 183.54 L699.20 186.26 L699.50 175.96 L699.80 177.65 L700.10 167.81 L700.40 168.96 L700.70 157.62 L701.00 158.30 L701.30 146.59 L701.60 149.36 L701.90 145.35 L702.20 151.99 L702.50 143.79 L702.80 147.43 L703.10 144.38 L703.40 151.44 L703.70 142.37 L704.00 152.99 L704.30 146.68 L704.60 157.77 L704.90 151.92 L705.20 162.85 L705.50 160.94 L705.80 173.01 L706.10 168.27 L706.40 177.45 L706.70 176.13 L707.00 186.43 L707.30 180.04 L707.60 188.15 L707.90 183.74 L708.20 191.06 L708.50 186.52 L708.80 194.64 L709.10 189.09 L709.40 194.95 L709.70 187.34 L710.00 193.91 L710.30 187.07 L710.60 196.02 L710.90 190.25 L711.20 194.11 L711.50 191.69 L711.80 198.35 L712.10 191.68 L712.40 202.83 L712.70 196.63 L713.00 202.15 L713.30 198.18 L713.60 203.82 L713.90 195.25 L714.20 203.44 L714.50 196.16 L714.80 201.49 L715.10 198.45 L715.40 207.41 L715.70 202.50 L716.00 213.64 L716.30 208.45 L716.60 214.29 L716.90 210.56 L717.20 218.10 L717.50 210.69 L717.80 220.51 L718.10 213.82 L718.40 220.13 L718.70 213.61 L719.00 220.21 L719.30 213.62 L719.60 214.72 L719.90 207.35 L720.20 208.26 L720.50 197.20 L720.80 199.49 L721.10 193.11 L721.40 192.26 L721.70 178.49 L722.00 180.09 L722.30 171.21 L722.60 168.74 L722.90 162.01 L723.20 161.57 L723.50 151.09 L723.80 153.53 L724.10 143.50 L724.40 145.19 L724.70 137.80 L725.00 139.36 L725.30 132.41 L725.60 140.58 L725.90 134.37 L726.20 141.99 L726.50 134.88 L726.80 138.50 L727.10 138.17 L727.40 149.71 L727.70 147.28 L728.00 159.13 L728.30 159.56 L728.60 173.03 L728.90 170.72 L729.20 181.30 L729.50 178.97 L729.80 190.32 L730.10 186.25 L730.40 198.05 L730.70 193.42 L731.00 201.79 L731.30 198.60 L731.60 205.03 L731.90 201.23 L732.20 207.83 L732.50 201.86 L732.80 204.86 L733.10 198.44 L733.40 201.32 L733.70 195.08 L734.00 200.23 L734.30 196.73 L734.60 198.91 L734.90 193.69 L735.20 199.54 L735.50 196.22 L735.80 201.86 L736.10 196.08 L736.40 200.80 L736.70 197.66 L737.00 201.12 L737.30 195.92 L737.60 202.17 L737.90 198.53 L738.20 203.52 L738.50 201.33 L738.80 205.98 L739.10 204.63 L739.40 208.38 L739.70 207.14 L740.00 209.86 L740.30 204.32 L740.60 210.53 L740.90 204.61 L741.20 207.35 L741.50 200.26 L741.80 202.84 L742.10 194.56 L742.40 196.85 L742.70 187.27 L743.00 191.32 L743.30 179.93 L743.60 182.27 L743.90 174.72 L744.20 176.64 L744.50 166.39 L744.80 166.99 L745.10 160.12 L745.40 161.29 L745.70 152.55 L746.00 153.33 L746.30 148.50 L746.60 153.06 L746.90 147.39 L747.20 151.92 L747.50 149.17 L747.80 154.88 L748.10 147.85 L748.40 152.97 L748.70 146.97 L749.00 154.76 L749.30 151.93 L749.60 156.80 L749.90 153.80 L750.20 165.22 L750.50 161.94 L750.80 172.12 L751.10 169.94 L751.40 181.10 L751.70 177.60 L752.00 187.63 L752.30 185.08 L752.60 192.32 L752.90 187.87 L753.20 194.06 L753.50 192.30 L753.80 196.66 L754.10 193.48 L754.40 197.45 L754.70 194.97 L755.00 198.57 L755.30 196.22 L755.60 199.70 L755.90 195.53 L756.20 201.18 L756.50 195.08 L756.80 198.69 L757.10 196.69 L757.40 199.91 L757.70 193.48 L758.00 198.14 L758.30 192.96 L758.60 198.20 L758.90 191.63 L759.20 197.20 L759.50 191.48 L759.80 197.29 L760.10 196.03" stroke-width="3"/>
<path d="M760.10 196.03 L760.40 201.94 L760.70 195.36 L761.00 202.54 L761.30 196.20 L761.60 200.30 L761.90 194.31 L762.20 200.37 L762.50 195.54 L762.80 199.24 L763.10 195.00 L763.40 197.86 L763.70 196.05 L764.00 199.75 L764.30 194.47 L764.60 200.63 L764.90 194.98 L765.20 198.41 L765.50 194.74 L765.80 198.49 L766.10 194.76 L766.40 196.79 L766.70 192.32 L767.00 194.47 L767.30 186.41 L767.60 188.57 L767.90 182.06 L768.20 182.34 L768.50 176.40 L768.80 178.67 L769.10 169.67 L769.40 172.37 L769.70 164.43 L770.00 165.56 L770.30 160.84 L770.60 165.28 L770.90 159.61 L771.20 163.55 L771.50 160.60 L771.80 163.72 L772.10 160.25 L772.40 162.63 L772.70 159.27 L773.00 164.21 L773.30 161.83 L773.60 166.14 L773.90 162.55 L774.20 169.00 L774.50 168.63 L774.80 174.70 L775.10 172.29 L775.40 178.90 L775.70 176.94 L776.00 183.74 L776.30 182.98 L776.60 185.58 L776.90 183.56 L777.20 187.57 L777.50 185.03 L777.80 188.66 L778.10 186.59 L778.40 189.54 L778.70 187.35 L779.00 190.39 L779.30 187.82 L779.60 192.59 L779.90 188.93 L780.20 194.16 L780.50 190.24 L780.80 194.02 L781.10 190.18 L781.40 195.00 L781.70 191.16 L782.00 195.14 L782.30 191.27 L782.60 195.71 L782.90 193.58 L783.20 194.90 L783.50 192.36 L783.80 195.24 L784.10 193.15 L784.40 196.29 L784.70 192.88 L785.00 196.17 L785.30 194.41 L785.60 195.91 L785.90 194.65 L786.20 196.70 L786.50 194.87 L786.80 196.59 L787.10 194.67 L787.40 196.13 L787.70 193.81 L788.00 197.48 L788.30 193.92 L788.60 196.78 L788.90 194.53 L789.20 197.44 L789.50 194.31 L789.80 197.14 L790.10 195.12 L790.40 196.64 L790.70 194.60 L791.00 197.37 L791.30 194.03 L791.60 195.17 L791.90 190.49 L792.20 191.73 L792.50 187.41 L792.80 188.44 L793.10 184.42 L793.40 184.75 L793.70 181.73 L794.00 181.93 L794.30 177.57 L794.60 177.89 L794.90 174.53 L795.20 174.44 L795.50 171.99 L795.80 172.05 L796.10 168.35 L796.40 168.69 L796.70 166.37 L797.00 166.79 L797.30 164.72 L797.60 167.12 L797.90 164.78 L798.20 168.41 L798.50 166.99 L798.80 171.31 L799.10 170.76 L799.40 174.61 L799.70 175.30 L800.00 178.10" stroke-width="2.6"/>
<path d="M800.00 178.10 L800.30 178.60 L800.60 182.09 L800.90 182.61 L801.20 185.54 L801.50 184.75 L801.80 186.90 L802.10 187.39 L802.40 189.18 L802.70 189.50 L803.00 191.96 L803.30 191.21 L803.60 193.43 L803.90 193.41 L804.20 195.28 L804.50 194.08 L804.80 196.29 L805.10 194.92 L805.40 197.31 L805.70 194.98 L806.00 197.52 L806.30 195.90 L806.60 197.64 L806.90 195.80 L807.20 197.71 L807.50 196.79 L807.80 198.09 L808.10 195.85 L808.40 197.46 L808.70 195.39 L809.00 197.05 L809.30 194.42 L809.60 194.91 L809.90 193.67 L810.20 193.89 L810.50 191.50 L810.80 191.90 L811.10 189.58 L811.40 190.74 L811.70 188.54 L812.00 189.59 L812.30 187.52 L812.60 188.67 L812.90 185.64 L813.20 186.62 L813.50 184.89 L813.80 186.49 L814.10 184.50 L814.40 185.65 L814.70 184.05 L815.00 185.08 L815.30 183.18 L815.60 184.55 L815.90 183.68 L816.20 184.83 L816.50 183.02 L816.80 184.42 L817.10 182.53 L817.40 184.16 L817.70 182.67 L818.00 183.74 L818.30 182.06 L818.60 183.29 L818.90 181.60 L819.20 182.98 L819.50 180.64 L819.80 182.34 L820.10 180.83 L820.40 181.70 L820.70 180.36 L821.00 181.13 L821.30 180.38 L821.60 181.33 L821.90 179.80 L822.20 180.63 L822.50 179.56 L822.80 181.19 L823.10 179.79 L823.40 180.90 L823.70 180.14 L824.00 181.65 L824.30 180.91 L824.60 181.88 L824.90 180.60 L825.20 183.17 L825.50 181.34 L825.80 183.36 L826.10 182.19 L826.40 183.76 L826.70 183.53 L827.00 185.71 L827.30 185.29 L827.60 187.63 L827.90 186.65 L828.20 188.82 L828.50 188.87 L828.80 190.35 L829.10 189.71 L829.40 191.44 L829.70 190.37 L830.00 192.43 L830.30 191.61 L830.60 192.68 L830.90 191.36 L831.20 193.26 L831.50 191.33 L831.80 192.18 L832.10 190.93 L832.40 191.66 L832.70 189.72 L833.00 189.86 L833.30 188.18 L833.60 189.16 L833.90 187.16 L834.20 187.51 L834.50 186.51 L834.80 186.59 L835.10 185.40 L835.40 186.37 L835.70 184.51 L836.00 185.47 L836.30 184.05 L836.60 185.03 L836.90 183.49 L837.20 184.61 L837.50 183.73 L837.80 184.96 L838.10 183.96 L838.40 184.96 L838.70 183.73 L839.00 185.12 L839.30 184.13 L839.60 185.93 L839.90 184.43 L840.20 186.05 L840.50 185.06 L840.80 186.09 L841.10 185.24 L841.40 186.27 L841.70 184.91 L842.00 186.23 L842.30 185.58 L842.60 186.81 L842.90 185.74 L843.20 186.56 L843.50 185.46 L843.80 187.35 L844.10 185.98 L844.40 187.28 L844.70 186.69 L845.00 188.21 L845.30 187.70 L845.60 188.80 L845.90 188.40 L846.20 189.21 L846.50 188.73 L846.80 189.42 L847.10 188.99 L847.40 190.02 L847.70 188.84 L848.00 190.04 L848.30 189.27 L848.60 190.26 L848.90 189.67 L849.20 190.81 L849.50 189.54 L849.80 190.58 L850.10 188.81 L850.40 189.66 L850.70 187.95 L851.00 188.84 L851.30 187.09 L851.60 187.11 L851.90 185.93 L852.20 186.23 L852.50 184.83 L852.80 185.93 L853.10 184.63 L853.40 184.83 L853.70 183.75 L854.00 184.10 L854.30 183.15 L854.60 183.38 L854.90 182.62 L855.20 183.04 L855.50 182.41 L855.80 183.15 L856.10 181.95 L856.40 183.61 L856.70 182.71 L857.00 183.67 L857.30 183.17 L857.60 184.66 L857.90 184.28 L858.20 185.38 L858.50 184.43 L858.80 185.60 L859.10 184.84 L859.40 185.96 L859.70 185.14 L860.00 186.43 L860.30 185.38 L860.60 186.47 L860.90 185.64 L861.20 186.65 L861.50 185.96 L861.80 187.14 L862.10 185.90 L862.40 187.17 L862.70 186.00 L863.00 187.08 L863.30 185.84 L863.60 186.87 L863.90 185.97 L864.20 187.20 L864.50 186.03 L864.80 187.54 L865.10 186.55 L865.40 187.69 L865.70 186.90 L866.00 187.71 L866.30 186.78 L866.60 187.97 L866.90 187.61 L867.20 188.80 L867.50 187.85 L867.80 188.80 L868.10 188.18 L868.40 189.05 L868.70 188.27 L869.00 189.60 L869.30 188.56 L869.60 189.83 L869.90 188.76 L870.20 189.41 L870.50 188.76 L870.80 189.81 L871.10 188.69 L871.40 189.81 L871.70 188.63 L872.00 189.72 L872.30 188.51 L872.60 189.54 L872.90 188.54 L873.20 189.34 L873.50 188.14 L873.80 189.06 L874.10 188.27 L874.40 188.93 L874.70 187.53 L875.00 188.29 L875.30 187.60 L875.60 187.98 L875.90 187.09 L876.20 187.57 L876.50 185.99 L876.80 186.64 L877.10 185.14 L877.40 186.19 L877.70 184.52 L878.00 185.40 L878.30 183.88 L878.60 185.02 L878.90 183.58 L879.20 184.52 L879.50 183.21 L879.80 184.40 L880.10 183.19 L880.40 184.17 L880.70 183.17 L881.00 183.64 L881.30 182.70 L881.60 183.74 L881.90 182.41 L882.20 183.38 L882.50 182.56 L882.80 183.49 L883.10 182.93 L883.40 183.57 L883.70 183.11 L884.00 184.34 L884.30 183.44 L884.60 184.87 L884.90 183.89 L885.20 185.16 L885.50 184.92 L885.80 186.01 L886.10 185.65 L886.40 186.63 L886.70 186.31 L887.00 187.98 L887.30 187.27 L887.60 188.72 L887.90 188.41 L888.20 189.10 L888.50 188.37 L888.80 189.61 L889.10 188.40 L889.40 189.59 L889.70 188.22 L890.00 189.17 L890.30 188.66 L890.60 189.41 L890.90 188.28 L891.20 189.33 L891.50 188.24 L891.80 189.58 L892.10 188.63 L892.40 189.27 L892.70 188.70 L893.00 189.24 L893.30 188.82 L893.60 189.65 L893.90 188.65 L894.20 189.74 L894.50 188.80 L894.80 189.37 L895.10 189.00 L895.40 189.63 L895.70 188.99 L896.00 189.81 L896.30 189.03 L896.60 189.41 L896.90 188.62 L897.20 189.38 L897.50 188.67 L897.80 189.56 L898.10 188.21 L898.40 188.64 L898.70 187.37 L899.00 187.76 L899.30 186.58 L899.60 187.30 L899.90 185.51 L900.20 185.96 L900.50 184.84 L900.80 185.13 L901.10 183.81 L901.40 184.30 L901.70 183.28 L902.00 184.12 L902.30 183.25 L902.60 183.78 L902.90 182.50 L903.20 183.42 L903.50 182.44 L903.80 182.87 L904.10 181.84 L904.40 183.19 L904.70 181.85 L905.00 182.80 L905.30 182.46 L905.60 183.73 L905.90 182.75 L906.20 183.91 L906.50 183.57 L906.80 184.44 L907.10 183.69 L907.40 184.96 L907.70 184.39 L908.00 185.73 L908.30 185.12 L908.60 186.25 L908.90 185.70 L909.20 186.49 L909.50 185.88 L909.80 187.09 L910.10 186.83 L910.40 187.55 L910.70 186.80 L911.00 188.33 L911.30 187.21 L911.60 188.31 L911.90 187.25 L912.20 188.54 L912.50 187.71 L912.80 188.81 L913.10 187.77 L913.40 188.72 L913.70 187.87 L914.00 188.71 L914.30 188.36 L914.60 189.14 L914.90 188.28 L915.20 189.20 L915.50 188.35 L915.80 189.74 L916.10 189.00 L916.40 189.79 L916.70 189.01 L917.00 190.04 L917.30 189.08 L917.60 189.73 L917.90 188.94 L918.20 189.59 L918.50 188.95 L918.80 189.21 L919.10 188.15 L919.40 188.79 L919.70 187.96 L920.00 188.11 L920.30 187.30 L920.60 187.72 L920.90 186.75 L921.20 187.03 L921.50 186.06 L921.80 186.62 L922.10 185.51 L922.40 186.12 L922.70 185.15 L923.00 185.58 L923.30 184.60 L923.60 185.50 L923.90 184.32 L924.20 184.66 L924.50 184.24 L924.80 184.75 L925.10 183.80 L925.40 184.75 L925.70 183.83 L926.00 184.68 L926.30 183.89 L926.60 184.62 L926.90 183.81 L927.20 184.90 L927.50 184.01 L927.80 185.10 L928.10 183.93 L928.40 185.10 L928.70 183.95 L929.00 185.08 L929.30 183.94 L929.60 184.89 L929.90 184.18 L930.20 184.87 L930.50 184.22 L930.80 184.82 L931.10 184.26 L931.40 185.42 L931.70 184.30 L932.00 184.98 L932.30 184.68 L932.60 185.63 L932.90 184.75 L933.20 185.55 L933.50 185.21 L933.80 186.09 L934.10 185.48 L934.40 186.90 L934.70 186.28 L935.00 187.47 L935.30 186.80 L935.60 187.74 L935.90 187.12 L936.20 188.04 L936.50 187.46 L936.80 188.67 L937.10 187.71 L937.40 188.67 L937.70 188.20 L938.00 189.33 L938.30 188.62 L938.60 189.07 L938.90 188.71 L939.20 189.00 L939.50 188.53 L939.80 189.03 L940.10 187.85 L940.40 188.55 L940.70 187.46 L941.00 188.21 L941.30 187.35 L941.60 187.66 L941.90 186.61 L942.20 187.24 L942.50 186.41 L942.80 186.90 L943.10 185.88 L943.40 186.75 L943.70 185.82 L944.00 186.13 L944.30 184.93 L944.60 185.52 L944.90 185.07 L945.20 185.71 L945.50 184.42 L945.80 185.45 L946.10 184.77 L946.40 185.34 L946.70 184.49 L947.00 185.14 L947.30 184.34 L947.60 185.37 L947.90 184.41 L948.20 185.56 L948.50 184.49 L948.80 185.46 L949.10 184.71 L949.40 185.14 L949.70 184.77 L950.00 185.36 L950.30 184.82 L950.60 185.29 L950.90 184.71 L951.20 185.75 L951.50 184.69 L951.80 186.01 L952.10 185.00 L952.40 186.09 L952.70 185.25 L953.00 186.24 L953.30 185.78 L953.60 186.47 L953.90 185.69 L954.20 186.58 L954.50 185.44 L954.80 186.41 L955.10 185.55 L955.40 186.73 L955.70 186.00 L956.00 186.55 L956.30 185.75 L956.60 186.53 L956.90 185.85 L957.20 186.65 L957.50 186.21 L957.80 186.97 L958.10 185.93 L958.40 187.06 L958.70 185.98 L959.00 187.19 L959.30 186.24 L959.60 187.08 L959.90 186.41 L960.20 187.04 L960.50 186.56 L960.80 187.20 L961.10 186.16 L961.40 187.00 L961.70 186.39 L962.00 187.33 L962.30 186.49 L962.60 187.55 L962.90 186.57 L963.20 187.40 L963.50 186.90 L963.80 187.75 L964.10 187.21 L964.40 187.93 L964.70 187.30 L965.00 188.24 L965.30 187.72 L965.60 188.14 L965.90 187.89 L966.20 188.25 L966.50 187.68 L966.80 188.40 L967.10 187.86 L967.40 188.78 L967.70 187.82 L968.00 188.28 L968.30 187.42 L968.60 187.93 L968.90 186.92 L969.20 187.75 L969.50 186.59 L969.80 187.41 L970.10 186.67 L970.40 187.20 L970.70 186.39 L971.00 186.87 L971.30 185.93 L971.60 186.65 L971.90 185.66 L972.20 186.35 L972.50 185.84 L972.80 186.35 L973.10 185.29 L973.40 186.24 L973.70 185.42 L974.00 186.08 L974.30 185.26 L974.60 186.04 L974.90 185.56 L975.20 185.85 L975.50 185.53 L975.80 185.91 L976.10 185.41 L976.40 185.89 L976.70 185.10 L977.00 186.16 L977.30 185.58 L977.60 185.88 L977.90 185.09 L978.20 186.07 L978.50 185.32 L978.80 186.06 L979.10 185.09 L979.40 186.28 L979.70 185.25 L980.00 186.09 L980.30 185.22 L980.60 185.98 L980.90 185.31 L981.20 186.13 L981.50 185.71 L981.80 186.13 L982.10 185.44 L982.40 186.25 L982.70 185.53 L983.00 186.43 L983.30 185.47 L983.60 186.40 L983.90 185.68 L984.20 186.44 L984.50 186.02 L984.80 186.69 L985.10 186.05 L985.40 186.62 L985.70 185.64 L986.00 186.37 L986.30 185.88 L986.60 186.49 L986.90 185.75 L987.20 186.56 L987.50 185.54 L987.80 186.35 L988.10 185.71 L988.40 186.49 L988.70 185.62 L989.00 186.33 L989.30 185.63 L989.60 186.39 L989.90 185.43 L990.20 186.35 L990.50 185.66 L990.80 186.55 L991.10 185.59 L991.40 186.37 L991.70 185.69 L992.00 186.85 L992.30 185.90 L992.60 186.93 L992.90 186.13 L993.20 187.17 L993.50 186.63 L993.80 187.15 L994.10 186.45 L994.40 187.54 L994.70 186.74 L995.00 187.38 L995.30 186.64 L995.60 187.36 L995.90 187.09 L996.20 187.68 L996.50 186.77 L996.80 187.60 L997.10 186.63 L997.40 187.44 L997.70 186.70 L998.00 187.57 L998.30 186.57 L998.60 187.55 L998.90 186.43 L999.20 187.08 L999.50 186.63 L999.80 187.34 L1000.10 186.20 L1000.40 187.22 L1000.70 186.40 L1001.00 187.00 L1001.30 186.37 L1001.60 187.02 L1001.90 186.07 L1002.20 186.66 L1002.50 185.86 L1002.80 186.84 L1003.10 185.81 L1003.40 186.35 L1003.70 186.04 L1004.00 186.66 L1004.30 185.61 L1004.60 186.33 L1004.90 185.72 L1005.20 186.20 L1005.50 185.64 L1005.80 186.28 L1006.10 185.56 L1006.40 185.96 L1006.70 185.56 L1007.00 186.03 L1007.30 185.18 L1007.60 186.12 L1007.90 185.46 L1008.20 185.97 L1008.50 185.17 L1008.80 185.96 L1009.10 185.44 L1009.40 186.08 L1009.70 185.38 L1010.00 186.11 L1010.30 185.44 L1010.60 186.00 L1010.90 185.14 L1011.20 186.12 L1011.50 185.50 L1011.80 185.71 L1012.10 185.52 L1012.40 186.11 L1012.70 185.27 L1013.00 185.88 L1013.30 185.30 L1013.60 185.96 L1013.90 185.17 L1014.20 186.05 L1014.50 185.46 L1014.80 186.32 L1015.10 185.69 L1015.40 186.30 L1015.70 185.72 L1016.00 186.34 L1016.30 185.66 L1016.60 186.46 L1016.90 185.86 L1017.20 186.40 L1017.50 185.96 L1017.80 186.50 L1018.10 186.10 L1018.40 186.74 L1018.70 186.08 L1019.00 186.67 L1019.30 186.17 L1019.60 186.79 L1019.90 186.32 L1020.20 186.86 L1020.50 186.26 L1020.80 187.18 L1021.10 186.49 L1021.40 186.93 L1021.70 186.64 L1022.00 186.93 L1022.30 186.35 L1022.60 187.30 L1022.90 186.80 L1023.20 187.37 L1023.50 186.71 L1023.80 187.33 L1024.10 186.74 L1024.40 187.30 L1024.70 186.49 L1025.00 187.46 L1025.30 186.70 L1025.60 187.19 L1025.90 186.73 L1026.20 187.18 L1026.50 186.63 L1026.80 187.19 L1027.10 186.13 L1027.40 187.01 L1027.70 186.36 L1028.00 186.60 L1028.30 186.10 L1028.60 186.48 L1028.90 185.59 L1029.20 186.48 L1029.50 185.62 L1029.80 186.42 L1030.10 185.70 L1030.40 186.04 L1030.70 185.44 L1031.00 186.10 L1031.30 185.28 L1031.60 185.82 L1031.90 185.33 L1032.20 185.88 L1032.50 184.85 L1032.80 185.77 L1033.10 184.74 L1033.40 185.39 L1033.70 184.80 L1034.00 185.41 L1034.30 184.98 L1034.60 185.47 L1034.90 184.83 L1035.20 185.47 L1035.50 184.74 L1035.80 185.10 L1036.10 184.35 L1036.40 185.08 L1036.70 184.38 L1037.00 185.27 L1037.30 184.38 L1037.60 185.01 L1037.90 184.66 L1038.20 185.30 L1038.50 184.77 L1038.80 185.76 L1039.10 185.04 L1039.40 185.99 L1039.70 185.19 L1040.00 186.11 L1040.30 185.68 L1040.60 186.38 L1040.90 185.98 L1041.20 186.49 L1041.50 186.05 L1041.80 187.13 L1042.10 186.47 L1042.40 187.18 L1042.70 186.99 L1043.00 187.65 L1043.30 187.29 L1043.60 188.04 L1043.90 187.48 L1044.20 188.12 L1044.50 187.64 L1044.80 188.58 L1045.10 187.74 L1045.40 188.74 L1045.70 187.88 L1046.00 188.74 L1046.30 187.99 L1046.60 188.63 L1046.90 187.73 L1047.20 188.26 L1047.50 187.71 L1047.80 188.50 L1048.10 187.78 L1048.40 188.17 L1048.70 187.38 L1049.00 188.18 L1049.30 187.54 L1049.60 187.85 L1049.90 187.22 L1050.20 187.67 L1050.50 187.35 L1050.80 187.76 L1051.10 187.03 L1051.40 187.36 L1051.70 186.88 L1052.00 187.59 L1052.30 186.65 L1052.60 187.35 L1052.90 186.35 L1053.20 187.01 L1053.50 186.23 L1053.80 186.86 L1054.10 185.96 L1054.40 186.67 L1054.70 185.80 L1055.00 186.52 L1055.30 185.87 L1055.60 186.23 L1055.90 185.43 L1056.20 186.07 L1056.50 185.47 L1056.80 186.09 L1057.10 185.21 L1057.40 185.85 L1057.70 185.10 L1058.00 185.40 L1058.30 184.89 L1058.60 185.20 L1058.90 184.60 L1059.20 185.29 L1059.50 184.51 L1059.80 184.97 L1060.10 184.32 L1060.40 185.24 L1060.70 184.34 L1061.00 184.99 L1061.30 184.71 L1061.60 185.39 L1061.90 184.68 L1062.20 185.21 L1062.50 184.69 L1062.80 185.57 L1063.10 184.88 L1063.40 185.54 L1063.70 185.28 L1064.00 186.02 L1064.30 185.50 L1064.60 185.97 L1064.90 185.55 L1065.20 186.32 L1065.50 185.84 L1065.80 186.32 L1066.10 186.13 L1066.40 186.54 L1066.70 186.38 L1067.00 186.77 L1067.30 186.66 L1067.60 187.07 L1067.90 186.87 L1068.20 187.44 L1068.50 186.83 L1068.80 187.75 L1069.10 186.96 L1069.40 187.64 L1069.70 187.15 L1070.00 187.53 L1070.30 186.98 L1070.60 187.87 L1070.90 187.23 L1071.20 187.55 L1071.50 187.29 L1071.80 187.55 L1072.10 186.90 L1072.40 187.81 L1072.70 187.21 L1073.00 187.59 L1073.30 187.19 L1073.60 187.49 L1073.90 187.04 L1074.20 187.40 L1074.50 186.89 L1074.80 187.46 L1075.10 186.83 L1075.40 187.41 L1075.70 186.85 L1076.00 187.46 L1076.30 186.88 L1076.60 187.43 L1076.90 186.76 L1077.20 187.47 L1077.50 186.64 L1077.80 187.14 L1078.10 186.53 L1078.40 186.88 L1078.70 186.25 L1079.00 186.71 L1079.30 186.43 L1079.60 186.67 L1079.90 186.08 L1080.20 186.62 L1080.50 185.74 L1080.80 185.77 L1081.10 184.99 L1081.40 185.30 L1081.70 184.61 L1082.00 185.00 L1082.30 184.59 L1082.60 184.82 L1082.90 184.55 L1083.20 184.90 L1083.50 184.37 L1083.80 184.92 L1084.10 184.64 L1084.40 184.98 L1084.70 184.55 L1085.00 185.12 L1085.30 184.76 L1085.60 185.15 L1085.90 184.96 L1086.20 185.19 L1086.50 184.70 L1086.80 185.30 L1087.10 185.11 L1087.40 185.76 L1087.70 185.36 L1088.00 185.83 L1088.30 185.52 L1088.60 186.05 L1088.90 185.71 L1089.20 186.32 L1089.50 186.12 L1089.80 186.59 L1090.10 186.08 L1090.40 186.84 L1090.70 186.26 L1091.00 186.84 L1091.30 186.68 L1091.60 186.97 L1091.90 186.84 L1092.20 187.22 L1092.50 186.77 L1092.80 187.24 L1093.10 186.76 L1093.40 187.51 L1093.70 187.17 L1094.00 187.60 L1094.30 187.35 L1094.60 187.64 L1094.90 187.26 L1095.20 187.68 L1095.50 187.36 L1095.80 187.91 L1096.10 187.36 L1096.40 188.14 L1096.70 187.33 L1097.00 188.13" stroke-width="2.25"/>
</g>
<g font-family="'Liberation Sans', Arial, Helvetica, sans-serif" fill="#262626">
<text x="71" y="372" font-size="19.7" text-anchor="middle">0</text>
<text x="289" y="372" font-size="19.7" text-anchor="middle">0.05</text>
<text x="507" y="372" font-size="19.7" text-anchor="middle">0.1</text>
<text x="725" y="372" font-size="19.7" text-anchor="middle">0.15</text>
<text x="943" y="372" font-size="19.7" text-anchor="middle">0.2</text>
<text x="1161" y="372" font-size="19.7" text-anchor="middle">0.25</text>
<text x="64" y="33.1" font-size="19.7" text-anchor="end">0.3</text>
<text x="64" y="86.6" font-size="19.7" text-anchor="end">0.2</text>
<text x="64" y="140.1" font-size="19.7" text-anchor="end">0.1</text>
<text x="64" y="192.7" font-size="19.7" text-anchor="end">0</text>
<text x="64" y="247.1" font-size="19.7" text-anchor="end">-0.1</text>
<text x="64" y="300.6" font-size="19.7" text-anchor="end">-0.2</text>
<text x="64" y="354.1" font-size="19.7" text-anchor="end">-0.3</text>
<text x="616" y="397.6" font-size="21.6" text-anchor="middle">Time (s)</text>
<text transform="translate(19.5 186) rotate(-90)" font-size="21.6" text-anchor="middle">Amplitude</text>
<text x="616.3" y="17.9" font-size="21.7" font-weight="bold" fill="#111" text-anchor="middle">PSA-091-012-0007</text>
</g>
</svg>
</body></html>
